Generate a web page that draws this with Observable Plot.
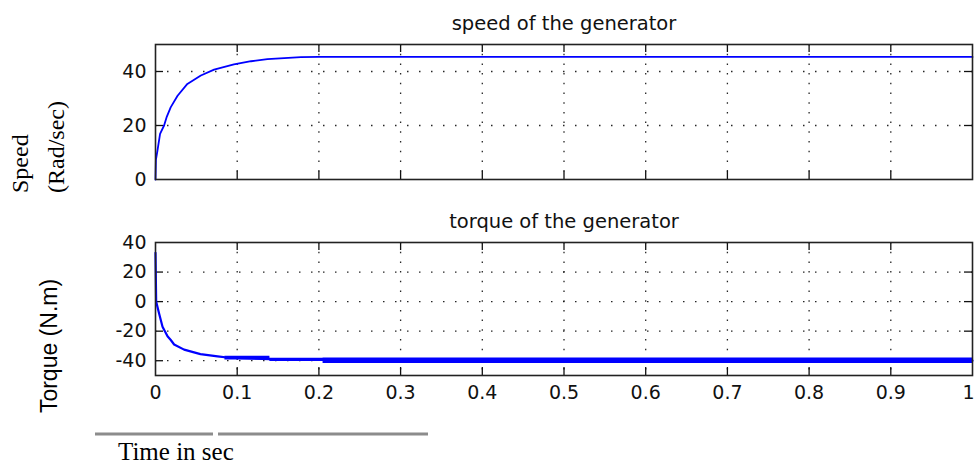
<!DOCTYPE html>
<html><head><meta charset="utf-8">
<script src="https://cdn.jsdelivr.net/npm/d3@7"></script>
<script src="https://cdn.jsdelivr.net/npm/@observablehq/plot@0.6"></script>
<style>
html,body{margin:0;padding:0;background:#fff;}
#root{position:relative;width:974px;height:464px;overflow:hidden;background:#fff;}
#root > svg{position:absolute;left:0;}
</style></head><body><div id="root"></div>
<script>
// ---- data ----
const speedTitle = "speed of the generator";
const torqueTitle = "torque of the generator";
const speedLabelLines = ["Speed", "(Rad/sec)"];
const torqueLabel = "Torque (N.m)";
const xLabel = "Time in sec";

const xTicks = [0, 0.1, 0.2, 0.3, 0.4, 0.5, 0.6, 0.7, 0.8, 0.9, 1];
const xInner = [0.1, 0.2, 0.3, 0.4, 0.5, 0.6, 0.7, 0.8, 0.9];
const speedTicks = [0, 20, 40];
const speedGrid = [20, 40];
const torqueTicks = [-40, -20, 0, 20, 40];
const torqueGrid = [-40, -20, 0, 20];

const speedT = [0, 0.0005, 0.0024, 0.0056, 0.0105, 0.0135, 0.0187, 0.027, 0.039, 0.0555, 0.0717, 0.096, 0.117, 0.137, 0.178, 0.2, 1];
const speedV = [0, 7.3, 10.7, 16.9, 20, 23, 26.8, 31, 35.4, 38.5, 40.7, 42.6, 43.8, 44.6, 45.3, 45.4, 45.4];

const torqueT = [0, 0.0008, 0.0044, 0.0086, 0.0147, 0.0187, 0.0228, 0.035, 0.055, 0.076, 0.09, 0.14, 0.2, 1];
const torqueV = [33, 0, -8, -17, -23.5, -26, -29, -32.5, -35.5, -37, -38, -39, -39.5, -40];

const bandT  = [0.085, 0.14, 0.1401, 0.205, 0.2051, 1];
const bandHi = [-37, -37.5, -38.3, -38.3, -38.2, -38.2];
const bandLo = [-39.5, -40.5, -40.5, -40.5, -41.8, -41.8];

// ---- build ----
const root = document.getElementById("root");
const W = 974, ML = 155, MR = 2;
const FW = W - ML - MR;
const TICKFONT = "'DejaVu Sans', sans-serif";
const BLUE = "#0000ff";
const TL = 8;
const fmt = d => String(d);

function dots(h) { return h ? "1.5,10.5" : "1.5,8.2"; }

function panel({top, height, mt, mb, domain, yTicks, yGrid, title, lines, showX}) {
  const FH = height - mt - mb;
  const innerY = yTicks.filter(d => d > domain[0] && d < domain[1]);
  const marks = [
    Plot.ruleY(yGrid, {stroke: "#000", strokeWidth: 1.3, strokeDasharray: dots(true), strokeOpacity: 0.85}),
    Plot.ruleX(xInner, {stroke: "#000", strokeWidth: 1.3, strokeDasharray: dots(false), strokeOpacity: 0.85}),
    // inner ticks
    Plot.ruleX(xInner, {stroke: "#111", strokeWidth: 1.3, insetTop: FH - TL}),
    Plot.ruleX(xInner, {stroke: "#111", strokeWidth: 1.3, insetBottom: FH - TL}),
    Plot.ruleY(innerY, {stroke: "#111", strokeWidth: 1.3, insetRight: FW - TL}),
    Plot.ruleY(innerY, {stroke: "#111", strokeWidth: 1.3, insetLeft: FW - TL}),
    ...lines,
    Plot.frame({stroke: "#222", strokeWidth: 1.6}),
    Plot.axisY(yTicks, {tickSize: 0, tickPadding: 9, fontSize: 19, fill: "#111", tickFormat: fmt}),
    Plot.text([title], {frameAnchor: "top", lineAnchor: "bottom", dy: -14.5, fontSize: 19.5, fill: "#111", fontFamily: TICKFONT})
  ];
  if (showX) {
    marks.push(Plot.axisX(xTicks.slice(0, -1), {tickSize: 0, tickPadding: 10, fontSize: 19, fill: "#111", tickFormat: fmt}));
    marks.push(Plot.axisX(xTicks.slice(-1), {tickSize: 0, tickPadding: 10, fontSize: 19, fill: "#111", tickFormat: fmt, dx: -4}));
  }
  const svg = Plot.plot({
    width: W, height,
    marginLeft: ML, marginRight: MR, marginTop: mt, marginBottom: mb,
    x: {domain: [0, 1], label: null, axis: null},
    y: {domain, label: null, axis: null},
    style: {fontFamily: TICKFONT, fontSize: "19px", background: "transparent", overflow: "visible"},
    marks
  });
  svg.style.top = top + "px";
  root.appendChild(svg);
}

panel({
  top: 0, height: 200, mt: 44, mb: 21, domain: [0, 50],
  yTicks: speedTicks, yGrid: speedGrid, title: speedTitle, showX: false,
  lines: [Plot.line(speedT.map((t, i) => ({t, v: speedV[i]})), {x: "t", y: "v", stroke: BLUE, strokeWidth: 1.8})]
});

panel({
  top: 200, height: 230, mt: 42, mb: 55, domain: [-50, 40],
  yTicks: torqueTicks, yGrid: torqueGrid, title: torqueTitle, showX: true,
  lines: [
    Plot.areaY(bandT.map((t, i) => ({t, lo: bandLo[i], hi: bandHi[i]})), {x: "t", y1: "lo", y2: "hi", fill: BLUE, curve: "step-after"}),
    Plot.line(torqueT.map((t, i) => ({t, v: torqueV[i]})), {x: "t", y: "v", stroke: BLUE, strokeWidth: 2.2})
  ]
});

// overlay labels
const ov = d3.select(root).append("svg").attr("width", W).attr("height", 464)
  .style("position", "absolute").style("top", "0px").style("left", "0px");
const serif = "'Liberation Serif', 'Times New Roman', serif";
ov.append("text").attr("transform", "translate(27.5,193) rotate(-90)")
  .attr("font-family", serif).attr("font-size", 24).attr("fill", "#000").text(speedLabelLines[0]);
ov.append("text").attr("transform", "translate(63.5,193) rotate(-90)")
  .attr("font-family", serif).attr("font-size", 24).attr("fill", "#000").text(speedLabelLines[1]);
ov.append("text").attr("transform", "translate(56.5,346) rotate(-90)")
  .attr("font-family", "'Liberation Sans', Arial, sans-serif").attr("font-size", 23)
  .attr("text-anchor", "middle").attr("fill", "#000").text(torqueLabel);
ov.append("line").attr("x1", 95).attr("x2", 213).attr("y1", 434).attr("y2", 434)
  .attr("stroke", "#8c8c8c").attr("stroke-width", 3);
ov.append("line").attr("x1", 218).attr("x2", 428).attr("y1", 434).attr("y2", 434)
  .attr("stroke", "#8c8c8c").attr("stroke-width", 3);
ov.append("text").attr("x", 118).attr("y", 459.5)
  .attr("font-family", serif).attr("font-size", 25).attr("fill", "#000").text(xLabel);
</script>
</body></html>
